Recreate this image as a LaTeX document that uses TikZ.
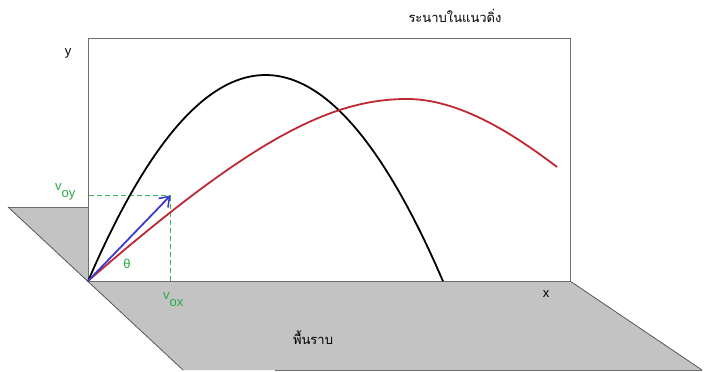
\documentclass[tikz,border=0pt]{standalone}
\usepackage{fontspec}
\setmainfont{Liberation Sans}
\newfontfamily\thaifont[Script=Thai]{Loma}
\usetikzlibrary{arrows.meta}
\definecolor{groundgray}{RGB}{195,195,195}
\definecolor{edgegray}{RGB}{110,110,110}
\definecolor{curvered}{RGB}{190,40,50}
\definecolor{arrowblue}{RGB}{60,60,205}
\definecolor{labelgreen}{RGB}{40,170,70}
\definecolor{guidegreen}{RGB}{60,180,90}
\tikzset{
  lbl/.style={inner sep=0pt, font=\fontsize{13}{15}\selectfont},
  glbl/.style={lbl, text=labelgreen},
  guide/.style={guidegreen, dash pattern=on 5pt off 3pt, line width=1pt},
  traj/.style={line width=1.8pt}
}
\begin{document}
\begin{tikzpicture}[x=1pt,y=-1pt]
\useasboundingbox (0,0) rectangle (704,372);
% ground plane
\fill[groundgray] (8,207) -- (88,207) -- (88,281) -- (570,281) -- (702,370) -- (183,370) -- cycle;
\draw[edgegray, line width=0.8pt] (8,207) -- (88,207);
\draw[edgegray!80!black, line width=0.8pt] (8,207) -- (183,370);
\draw[edgegray!80!black, line width=0.8pt] (570,281) -- (702,370);
\draw[edgegray, line width=0.8pt] (275,370) -- (702,370);
% vertical plane
\draw[edgegray, line width=1pt] (88,38) rectangle (570,281);
\coordinate (O) at (88,281);
\coordinate (V) at (170.5,195.5);
\coordinate (Vy) at (89,195.5);
\coordinate (Vx) at (170.5,281);
\coordinate (P) at (407,99);
\coordinate (E) at (557,167);
% guides
\draw[guide] (Vy) -- (V);
\draw[guide] (V) -- (Vx);
% black trajectory
\draw[traj, black] plot[domain=88:443, samples=80] (\x, {75+0.00654*(\x-265.5)*(\x-265.5)});
% red trajectory
\draw[traj, curvered] (O) .. controls (250,140) and (330,99) .. (P)
  .. controls (460,99) and (515,135) .. (E);
% blue vector
\draw[arrowblue, line width=1.8pt, -{Straight Barb[length=9pt, width=13pt, line width=1.6pt]}] (O) -- (V);
% labels
\node[lbl, anchor=base] (ylab) at (68,55) {y};
\node[lbl, anchor=base] (xlab) at (546,297) {x};
\node[glbl, anchor=base] (theta) at (127,268) {θ};
\node[glbl, anchor=base west] (voy) at (55,190) {v\raisebox{-7pt}{oy}};
\node[glbl, anchor=base west] (vox) at (163,299) {v\raisebox{-7pt}{ox}};
\node[lbl, anchor=base] (ground) at (313,344) {\thaifont พื้นราบ};
\node[lbl, anchor=base] (plane) at (455,23) {\thaifont ระนาบในแนวดิ่ง};
\end{tikzpicture}
\end{document}
